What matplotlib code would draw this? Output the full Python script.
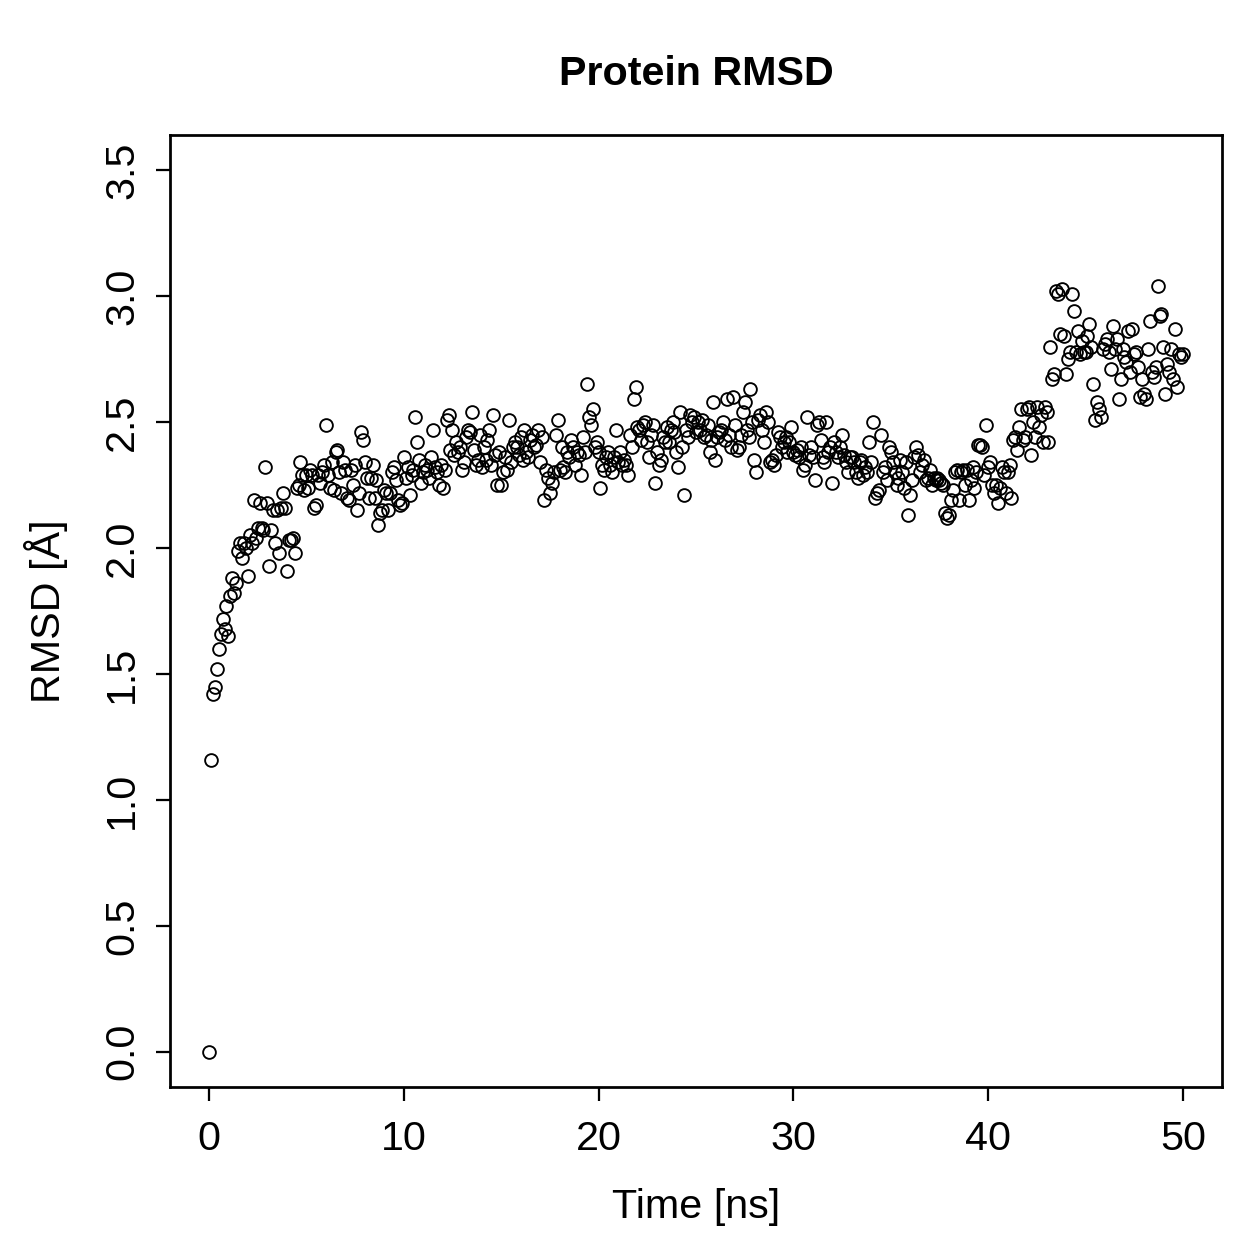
import numpy as np
import matplotlib
matplotlib.use('Agg')
import matplotlib.pyplot as plt

# time axis, 0.1 ns steps
time_ns = np.arange(501) / 10.0

# RMSD values, one row per ns
rmsd = [
    0.00, 1.16, 1.42, 1.45, 1.52, 1.60, 1.66, 1.72, 1.68, 1.77,
    1.65, 1.81, 1.88, 1.82, 1.86, 1.99, 2.02, 1.96, 2.02, 2.00,
    1.89, 2.05, 2.02, 2.19, 2.04, 2.08, 2.18, 2.08, 2.07, 2.32,
    2.18, 1.93, 2.07, 2.15, 2.02, 2.15, 1.98, 2.16, 2.22, 2.16,
    1.91, 2.03, 2.03, 2.04, 1.98, 2.24, 2.25, 2.34, 2.29, 2.23,
    2.29, 2.24, 2.31, 2.29, 2.16, 2.17, 2.29, 2.26, 2.30, 2.33,
    2.49, 2.29, 2.24, 2.34, 2.23, 2.38, 2.39, 2.30, 2.22, 2.34,
    2.31, 2.20, 2.19, 2.31, 2.25, 2.33, 2.15, 2.22, 2.46, 2.43,
    2.34, 2.28, 2.20, 2.28, 2.33, 2.20, 2.27, 2.09, 2.14, 2.15,
    2.23, 2.22, 2.15, 2.22, 2.30, 2.32, 2.27, 2.19, 2.17, 2.18,
    2.36, 2.28, 2.32, 2.21, 2.29, 2.31, 2.52, 2.42, 2.35, 2.26,
    2.30, 2.33, 2.31, 2.28, 2.36, 2.47, 2.32, 2.30, 2.25, 2.33,
    2.24, 2.31, 2.51, 2.53, 2.39, 2.47, 2.37, 2.42, 2.38, 2.40,
    2.31, 2.34, 2.44, 2.47, 2.46, 2.54, 2.39, 2.33, 2.35, 2.45,
    2.32, 2.40, 2.35, 2.43, 2.47, 2.33, 2.53, 2.37, 2.25, 2.38,
    2.25, 2.30, 2.36, 2.31, 2.51, 2.34, 2.40, 2.42, 2.40, 2.37,
    2.44, 2.35, 2.47, 2.38, 2.36, 2.43, 2.45, 2.40, 2.41, 2.47,
    2.34, 2.44, 2.19, 2.31, 2.28, 2.22, 2.26, 2.30, 2.45, 2.51,
    2.31, 2.40, 2.32, 2.30, 2.38, 2.36, 2.43, 2.40, 2.33, 2.38,
    2.37, 2.29, 2.44, 2.38, 2.65, 2.52, 2.49, 2.55, 2.40, 2.42,
    2.38, 2.24, 2.33, 2.31, 2.36, 2.38, 2.33, 2.30, 2.36, 2.47,
    2.34, 2.38, 2.33, 2.35, 2.33, 2.29, 2.45, 2.40, 2.59, 2.64,
    2.48, 2.47, 2.43, 2.49, 2.50, 2.42, 2.36, 2.45, 2.49, 2.26,
    2.38, 2.33, 2.35, 2.44, 2.42, 2.48, 2.42, 2.47, 2.50, 2.46,
    2.38, 2.32, 2.54, 2.40, 2.21, 2.47, 2.44, 2.53, 2.50, 2.52,
    2.46, 2.50, 2.47, 2.51, 2.44, 2.45, 2.49, 2.38, 2.43, 2.58,
    2.35, 2.44, 2.46, 2.47, 2.50, 2.43, 2.59, 2.45, 2.40, 2.60,
    2.49, 2.39, 2.40, 2.45, 2.54, 2.58, 2.47, 2.44, 2.63, 2.50,
    2.35, 2.30, 2.51, 2.53, 2.47, 2.42, 2.54, 2.50, 2.34, 2.35,
    2.33, 2.37, 2.46, 2.44, 2.40, 2.42, 2.44, 2.38, 2.42, 2.48,
    2.38, 2.37, 2.39, 2.36, 2.40, 2.31, 2.33, 2.52, 2.37, 2.40,
    2.36, 2.27, 2.49, 2.50, 2.43, 2.36, 2.34, 2.50, 2.38, 2.40,
    2.26, 2.42, 2.38, 2.36, 2.40, 2.45, 2.37, 2.34, 2.30, 2.36,
    2.36, 2.34, 2.30, 2.28, 2.34, 2.35, 2.29, 2.32, 2.30, 2.42,
    2.34, 2.50, 2.20, 2.22, 2.23, 2.45, 2.30, 2.32, 2.27, 2.40,
    2.38, 2.34, 2.30, 2.25, 2.28, 2.35, 2.30, 2.24, 2.34, 2.13,
    2.21, 2.27, 2.36, 2.40, 2.37, 2.30, 2.33, 2.35, 2.27, 2.28,
    2.31, 2.25, 2.28, 2.27, 2.28, 2.27, 2.26, 2.25, 2.14, 2.12,
    2.13, 2.19, 2.23, 2.30, 2.31, 2.19, 2.30, 2.31, 2.25, 2.31,
    2.19, 2.27, 2.32, 2.24, 2.30, 2.41, 2.41, 2.40, 2.29, 2.49,
    2.32, 2.34, 2.25, 2.22, 2.25, 2.18, 2.24, 2.32, 2.30, 2.22,
    2.30, 2.33, 2.20, 2.43, 2.44, 2.39, 2.48, 2.55, 2.43, 2.44,
    2.55, 2.56, 2.37, 2.50, 2.44, 2.56, 2.48, 2.53, 2.42, 2.56,
    2.54, 2.42, 2.80, 2.67, 2.69, 3.02, 3.01, 2.85, 3.03, 2.84,
    2.69, 2.75, 2.78, 3.01, 2.94, 2.78, 2.86, 2.77, 2.82, 2.78,
    2.78, 2.84, 2.89, 2.80, 2.65, 2.51, 2.58, 2.55, 2.52, 2.79,
    2.81, 2.83, 2.78, 2.71, 2.88, 2.79, 2.83, 2.59, 2.67, 2.79,
    2.76, 2.74, 2.86, 2.70, 2.87, 2.77, 2.78, 2.72, 2.60, 2.67,
    2.61, 2.59, 2.79, 2.90, 2.70, 2.68, 2.72, 3.04, 2.92, 2.93,
    2.80, 2.61, 2.73, 2.70, 2.79, 2.67, 2.87, 2.64, 2.77, 2.76,
    2.77,
]

x_ticks = [0, 10, 20, 30, 40, 50]
y_ticks = [0.0, 0.5, 1.0, 1.5, 2.0, 2.5, 3.0, 3.5]


def main():
    plt.rcParams['font.family'] = ['Liberation Sans', 'DejaVu Sans']

    fig = plt.figure(figsize=(1259 / 180, 1259 / 180), dpi=180)
    ax = fig.add_axes([0.135, 0.1366, 0.8355, 0.7562])

    ax.plot(time_ns, rmsd, linestyle='none', marker='o', markersize=5.1,
            markerfacecolor='none', markeredgecolor='black', markeredgewidth=0.75)

    # R style 4% padding
    ax.set_xlim(-2, 52)
    ax.set_ylim(-0.14, 3.64)
    ax.set_xticks(x_ticks)
    ax.set_xticklabels([str(t) for t in x_ticks])
    ax.set_yticks(y_ticks)
    ax.set_yticklabels(['%.1f' % t for t in y_ticks], rotation=90, va='center')

    ax.tick_params(axis='x', pad=7.5)
    ax.tick_params(axis='y', pad=6)
    ax.tick_params(direction='out', length=5.5, width=0.9, labelsize=16.5)
    for side in ax.spines.values():
        side.set_linewidth(1.1)

    ax.set_xlabel('Time [ns]', fontsize=16.5, labelpad=12)
    ax.set_ylabel('RMSD [Å]', fontsize=16.5, labelpad=14)
    ax.set_title('Protein RMSD', fontsize=16.5, fontweight='bold', pad=20)

    fig.savefig('out.png', dpi=180)


if __name__ == '__main__':
    main()
